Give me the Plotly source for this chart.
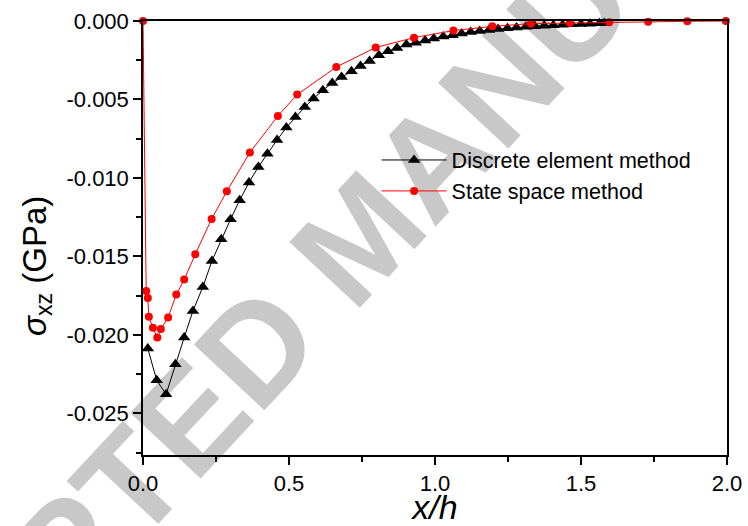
import plotly.graph_objects as go

# ---- data ----
dem_x = [0.0165, 0.047, 0.079, 0.111, 0.141, 0.171, 0.205, 0.236, 0.268, 0.300,
         0.331, 0.363, 0.395, 0.426, 0.459, 0.491, 0.522, 0.554, 0.584, 0.616,
         0.648, 0.680, 0.714, 0.745, 0.776, 0.808, 0.839, 0.870, 0.902, 0.934,
         0.966, 0.996, 1.028, 1.060, 1.091, 1.122, 1.153, 1.185, 1.216, 1.248,
         1.279, 1.311, 1.342, 1.374, 1.405, 1.437, 1.468, 1.500, 1.531, 1.563, 1.580]
dem_y = [-0.02087, -0.02289, -0.02378, -0.02187, -0.02017, -0.01847, -0.01694, -0.01529,
         -0.0139, -0.01263, -0.01142, -0.01029, -0.0093, -0.00845, -0.00758, -0.00679,
         -0.00611, -0.00548, -0.00494, -0.00441, -0.00395, -0.00357, -0.0032, -0.00286,
         -0.00255, -0.00218, -0.00193, -0.00172, -0.0015, -0.00138, -0.00125, -0.00112,
         -0.00099, -0.00091, -0.0008, -0.0007, -0.00063, -0.00057, -0.00051, -0.00046,
         -0.00041, -0.00037, -0.00033, -0.0003, -0.00027, -0.00024, -0.00021, -0.00019,
         -0.00017, -0.00015, -0.00013]

ssm_x = [0.0, 0.011, 0.0165, 0.020, 0.034, 0.049, 0.061, 0.086, 0.114, 0.141,
         0.179, 0.235, 0.287, 0.366, 0.462, 0.528, 0.662, 0.797, 0.928, 1.063,
         1.196, 1.328, 1.462, 1.597, 1.730, 1.864, 1.996]
ssm_y = [0.0, -0.0172, -0.01764, -0.01885, -0.01955, -0.02017, -0.01962, -0.01889,
         -0.01743, -0.01647, -0.01486, -0.01261, -0.01085, -0.00838, -0.00605, -0.00469,
         -0.00293, -0.00169, -0.00106, -0.00061, -0.00034, -0.00017, -0.00013, -0.00008,
         -0.00004, -0.00002, 0.0]

x_ticks = [0.0, 0.5, 1.0, 1.5, 2.0]
x_labels = ["0.0", "0.5", "1.0", "1.5", "2.0"]
y_ticks = [0.0, -0.005, -0.010, -0.015, -0.020, -0.025]
y_labels = ["0.000", "-0.005", "-0.010", "-0.015", "-0.020", "-0.025"]

FONT = "Liberation Sans, Arial, sans-serif"

fig = go.Figure()
fig.add_trace(go.Scatter(
    x=dem_x, y=dem_y, mode="lines+markers", name="Discrete element method",
    line=dict(color="black", width=1),
    marker=dict(symbol="triangle-up", size=11, color="black"),
    cliponaxis=False,
))
fig.add_trace(go.Scatter(
    x=ssm_x, y=ssm_y, mode="lines+markers", name="State space method",
    line=dict(color="#ff0000", width=1),
    marker=dict(symbol="circle", size=8, color="#ff0000"),
    cliponaxis=False,
))

# watermark, below the data
fig.add_shape(
    type="rect", xref="paper", yref="paper", x0=0.251, x1=0.461, y0=0.455, y1=0.595,
    line=dict(width=0), fillcolor="rgba(0,0,0,0)", layer="below",
    label=dict(text="ACCEPTED MANUSCRIPT", textangle=-47, textposition="middle center",
               font=dict(family=FONT, size=140, color="#c8c8c8", weight="bold")),
)

# y-axis title (placed like the reference, off-centre)
fig.add_annotation(
    text="<i>σ</i><sub>xz</sub> (GPa)", xref="paper", yref="paper",
    x=-0.182, y=0.435, xanchor="center", yanchor="middle", textangle=-90,
    showarrow=False, font=dict(size=33, family=FONT, color="black"),
)

fig.update_layout(
    width=748, height=526,
    margin=dict(l=143, r=21, t=21, b=71, autoexpand=False),
    paper_bgcolor="rgba(0,0,0,0)", plot_bgcolor="rgba(0,0,0,0)",
    font=dict(family=FONT, color="black", size=20),
    showlegend=True,
    legend=dict(x=0.40, y=0.727, xanchor="left", yanchor="top", itemwidth=65,
                bgcolor="rgba(0,0,0,0)", font=dict(size=21.5), tracegroupgap=0),
)
fig.update_xaxes(
    range=[0, 2], tickvals=x_ticks, ticktext=x_labels, automargin=False,
    showline=True, linecolor="black", linewidth=1.5, mirror=True,
    ticks="outside", ticklen=8, tickwidth=1.5, tickcolor="black",
    minor=dict(ticks="outside", ticklen=5, tickwidth=1.5, tickcolor="black", dtick=0.25),
    showgrid=False, zeroline=False, tickfont=dict(size=22),
    title=dict(text="<i>x/h</i>", font=dict(size=34), standoff=1),
)
fig.update_yaxes(
    range=[-0.02765, 0], tickvals=y_ticks, ticktext=y_labels, automargin=False,
    showline=True, linecolor="black", linewidth=1.5, mirror=True,
    ticks="outside", ticklen=8, tickwidth=1.5, tickcolor="black",
    minor=dict(ticks="outside", ticklen=5, tickwidth=1.5, tickcolor="black", dtick=0.0025),
    showgrid=False, zeroline=False, tickfont=dict(size=22),
)

fig.write_html("out.html")
